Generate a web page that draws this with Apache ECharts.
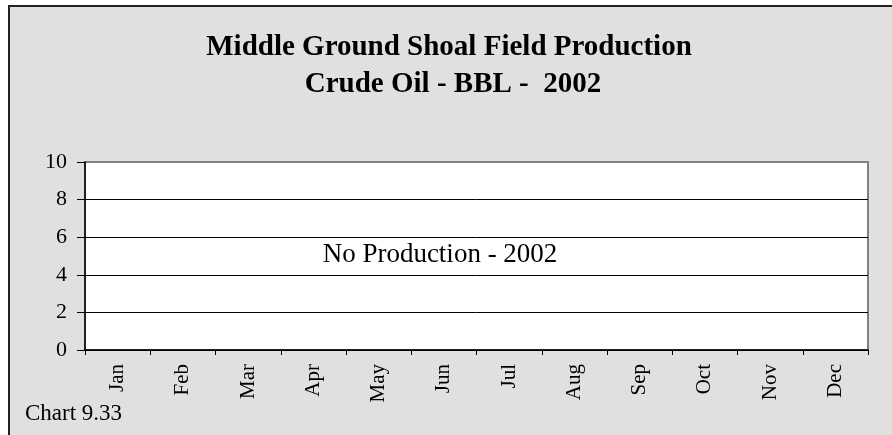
<!DOCTYPE html>
<html>
<head>
<meta charset="utf-8">
<script src="https://cdn.jsdelivr.net/npm/echarts@6/dist/echarts.min.js"></script>
<style>
  html, body { margin: 0; padding: 0; background: #ffffff; }
  #chart { width: 892px; height: 435px; }
</style>
</head>
<body>
<div id="chart"></div>
<script>
// Monthly crude oil output, 2002 (field was shut in all year)
const months = ['Jan', 'Feb', 'Mar', 'Apr', 'May', 'Jun', 'Jul', 'Aug', 'Sep', 'Oct', 'Nov', 'Dec'];
const production = [0, 0, 0, 0, 0, 0, 0, 0, 0, 0, 0, 0];
const yTicks = [0, 2, 4, 6, 8, 10];

const titleLines = ['Middle Ground Shoal Field Production', 'Crude Oil - BBL -  2002'];
const noteText = 'No Production - 2002';
const chartId = 'Chart 9.33';

const serif = '"Liberation Serif", "Times New Roman", serif';

const chart = echarts.init(document.getElementById('chart'), null, { renderer: 'canvas' });

chart.setOption({
  backgroundColor: '#ffffff',
  animation: false,
  graphic: [
    {
      type: 'rect',
      z: -10,
      shape: { x: 9, y: 6, width: 900, height: 440 },
      style: { fill: '#e0e0e0', stroke: '#222222', lineWidth: 2 }
    },
    {
      type: 'text',
      x: 449,
      y: 48,
      style: {
        text: titleLines[0],
        font: 'bold 29px ' + serif,
        fill: '#000000',
        textAlign: 'center',
        textVerticalAlign: 'middle'
      }
    },
    {
      type: 'text',
      x: 453,
      y: 85,
      style: {
        text: titleLines[1],
        font: 'bold 29px ' + serif,
        fill: '#000000',
        textAlign: 'center',
        textVerticalAlign: 'middle'
      }
    },
    {
      type: 'text',
      x: 440,
      y: 255,
      style: {
        text: noteText,
        font: '27px ' + serif,
        fill: '#000000',
        textAlign: 'center',
        textVerticalAlign: 'middle'
      }
    },
    {
      type: 'text',
      x: 25,
      y: 414,
      style: {
        text: chartId,
        font: '23px ' + serif,
        fill: '#000000',
        textAlign: 'left',
        textVerticalAlign: 'middle'
      }
    }
  ],
  grid: {
    left: 85,
    right: 24,
    top: 162,
    bottom: 85,
    show: true,
    backgroundColor: '#ffffff',
    borderColor: '#808080',
    borderWidth: 2
  },
  xAxis: {
    type: 'category',
    data: months,
    boundaryGap: true,
    axisLine: { show: true, lineStyle: { color: '#000000', width: 1.5 } },
    axisTick: { show: true, alignWithLabel: false, length: 5, inside: false, lineStyle: { color: '#000000' } },
    axisLabel: {
      rotate: 90,
      margin: 14,
      color: '#000000',
      fontFamily: serif,
      fontSize: 21
    },
    splitLine: { show: false }
  },
  yAxis: {
    type: 'value',
    min: yTicks[0],
    max: yTicks[yTicks.length - 1],
    interval: 2,
    axisLine: { show: true, lineStyle: { color: '#000000', width: 1.5 } },
    axisTick: { show: true, length: 8, lineStyle: { color: '#000000' } },
    axisLabel: {
      margin: 18,
      color: '#000000',
      fontFamily: serif,
      fontSize: 22
    },
    splitLine: {
      show: true,
      lineStyle: {
        color: ['#000000', '#000000', '#000000', '#000000', '#000000', '#808080'],
        width: 1
      }
    }
  },
  series: [
    {
      name: 'Crude Oil',
      type: 'bar',
      data: production,
      itemStyle: { color: '#000080' },
      barWidth: '50%'
    }
  ]
});
</script>
</body>
</html>
